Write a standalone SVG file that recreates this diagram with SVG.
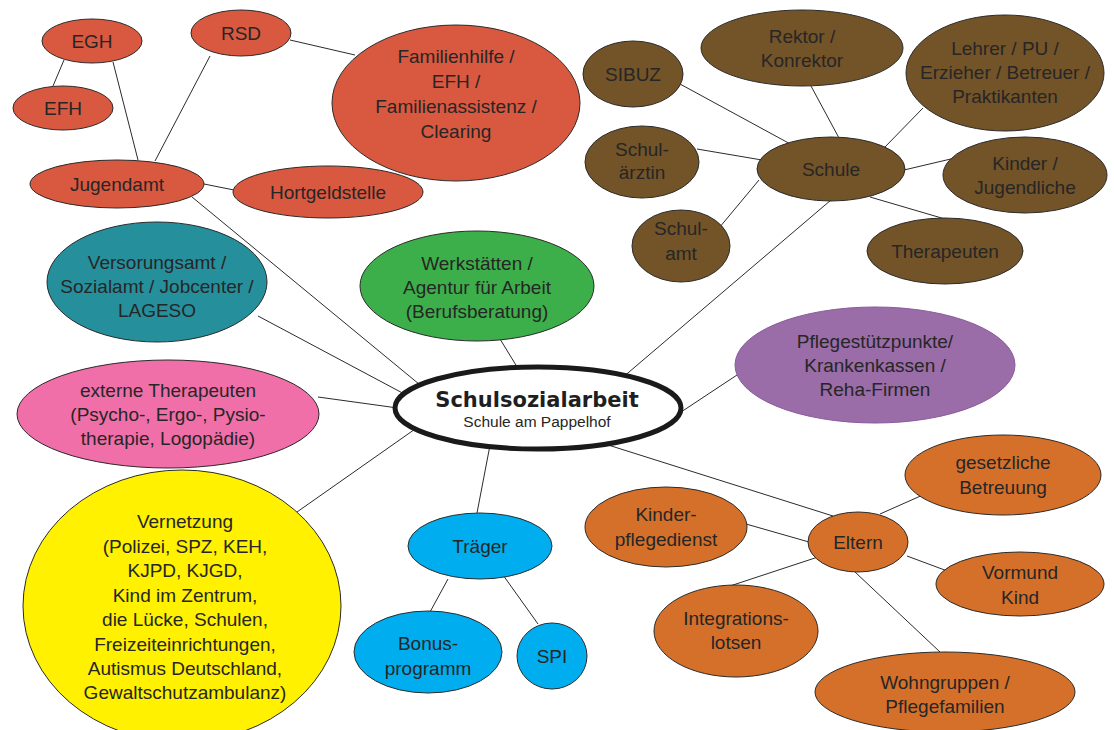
<svg xmlns="http://www.w3.org/2000/svg" width="1114" height="730" viewBox="0 0 1114 730">
<style>
.n{stroke:#2b2b2b;stroke-width:1}
.red{fill:#d95840}
.brn{fill:#735328}
.teal{fill:#268f9c}
.grn{fill:#3daf4a}
.pink{fill:#f06fa9}
.pur{fill:#9a6ca8;stroke:#8a5a9a}
.yel{fill:#fff100}
.blu{fill:#00aeef}
.org{fill:#d5702b}
text{font-family:"Liberation Sans",Arial,sans-serif;font-size:19px;fill:#262626;text-anchor:middle}
.c line{stroke:#2b2b2b;stroke-width:1}
</style>
<rect width="1114" height="730" fill="#fff"/>
<g class="c" id="connectors">
<line x1="64" y1="60" x2="53" y2="86"/>
<line x1="113" y1="62" x2="138" y2="160"/>
<line x1="210" y1="56" x2="155" y2="161"/>
<line x1="290" y1="40" x2="355" y2="55"/>
<line x1="204" y1="184" x2="234" y2="190"/>
<line x1="192" y1="197" x2="425" y2="389"/>
<line x1="258" y1="316" x2="410" y2="397"/>
<line x1="318" y1="397" x2="405" y2="409"/>
<line x1="297" y1="512" x2="418" y2="427"/>
<line x1="500" y1="339" x2="522" y2="375"/>
<line x1="831" y1="200" x2="622" y2="378"/>
<line x1="737" y1="375" x2="672" y2="418"/>
<line x1="491" y1="440" x2="477" y2="513"/>
<line x1="605" y1="444" x2="833" y2="516"/>
<line x1="448" y1="579" x2="430" y2="612"/>
<line x1="503" y1="575" x2="538" y2="624"/>
<line x1="746" y1="524" x2="809" y2="542"/>
<line x1="880" y1="514" x2="925" y2="494"/>
<line x1="907" y1="556" x2="950" y2="572"/>
<line x1="818" y1="557" x2="730" y2="586"/>
<line x1="855" y1="572" x2="940" y2="652"/>
<line x1="680" y1="84" x2="794" y2="146"/>
<line x1="811" y1="86" x2="839" y2="138"/>
<line x1="923" y1="108" x2="884" y2="148"/>
<line x1="697" y1="149" x2="762" y2="160"/>
<line x1="904" y1="170" x2="955" y2="158"/>
<line x1="719" y1="228" x2="759" y2="180"/>
<line x1="870" y1="197" x2="945" y2="219"/>
</g>
<g id="egh"><ellipse class="n red" cx="92" cy="41" rx="50" ry="22"/><text x="92" y="48">EGH</text></g>
<g id="efh"><ellipse class="n red" cx="63" cy="108" rx="50" ry="22"/><text x="63" y="115">EFH</text></g>
<g id="rsd"><ellipse class="n red" cx="241" cy="33" rx="50" ry="23"/><text x="241" y="40">RSD</text></g>
<g id="familienhilfe"><ellipse class="n red" cx="456" cy="103" rx="124" ry="78"/><text x="456" y="63">Familienhilfe /</text><text x="456" y="88">EFH /</text><text x="456" y="113">Familienassistenz /</text><text x="456" y="138">Clearing</text></g>
<g id="jugendamt"><ellipse class="n red" cx="117" cy="184" rx="87" ry="24"/><text x="117" y="191">Jugendamt</text></g>
<g id="hortgeldstelle"><ellipse class="n red" cx="328" cy="192" rx="95" ry="26"/><text x="328" y="199">Hortgeldstelle</text></g>
<g id="sibuz"><ellipse class="n brn" cx="633" cy="74" rx="50" ry="33"/><text x="633" y="81">SIBUZ</text></g>
<g id="rektor"><ellipse class="n brn" cx="802" cy="48" rx="101" ry="38"/><text x="802" y="43">Rektor /</text><text x="802" y="67">Konrektor</text></g>
<g id="lehrer"><ellipse class="n brn" cx="1005" cy="73" rx="99" ry="58"/><text x="1005" y="55">Lehrer / PU /</text><text x="1005" y="79">Erzieher / Betreuer /</text><text x="1005" y="103">Praktikanten</text></g>
<g id="schularztin"><ellipse class="n brn" cx="642" cy="162" rx="57" ry="36"/><text x="642" y="156">Schul-</text><text x="642" y="179">ärztin</text></g>
<g id="schule"><ellipse class="n brn" cx="831" cy="169" rx="74" ry="32"/><text x="831" y="176">Schule</text></g>
<g id="kinder"><ellipse class="n brn" cx="1025" cy="175" rx="82" ry="38"/><text x="1025" y="170">Kinder /</text><text x="1025" y="194">Jugendliche</text></g>
<g id="schulamt"><ellipse class="n brn" cx="681" cy="246" rx="49" ry="36"/><text x="681" y="235">Schul-</text><text x="681" y="260">amt</text></g>
<g id="therapeuten"><ellipse class="n brn" cx="945" cy="251" rx="78" ry="33"/><text x="945" y="258">Therapeuten</text></g>
<g id="versorgungsamt"><ellipse class="n teal" cx="157" cy="282" rx="110" ry="60"/><text x="157" y="269">Versorungsamt /</text><text x="157" y="293">Sozialamt / Jobcenter /</text><text x="157" y="317">LAGESO</text></g>
<g id="werkstaetten"><ellipse class="n grn" cx="477" cy="286" rx="117" ry="55"/><text x="477" y="270">Werkstätten /</text><text x="477" y="294">Agentur für Arbeit</text><text x="477" y="318">(Berufsberatung)</text></g>
<g id="externe"><ellipse class="n pink" cx="168" cy="414" rx="151" ry="54"/><text x="168" y="397">externe Therapeuten</text><text x="168" y="421">(Psycho-, Ergo-, Pysio-</text><text x="168" y="445">therapie, Logopädie)</text></g>
<g id="center"><ellipse cx="538" cy="408" rx="143" ry="41" fill="#fff" stroke="#1a1a1a" stroke-width="5"/><text x="537" y="407" style="font-family:'DejaVu Sans',sans-serif;font-weight:bold;font-size:21px;fill:#1f1f1f">Schulsozialarbeit</text><text x="537" y="427" style="font-size:15.5px">Schule am Pappelhof</text></g>
<g id="pflege"><ellipse class="n pur" cx="875" cy="365" rx="140" ry="58"/><text x="875" y="348">Pflegestützpunkte/</text><text x="875" y="372">Krankenkassen /</text><text x="875" y="396">Reha-Firmen</text></g>
<g id="vernetzung"><ellipse class="n yel" cx="182" cy="606" rx="159" ry="136"/><text x="185" y="528">Vernetzung</text><text x="185" y="553">(Polizei, SPZ, KEH,</text><text x="185" y="577">KJPD, KJGD,</text><text x="185" y="602">Kind im Zentrum,</text><text x="185" y="626">die Lücke, Schulen,</text><text x="185" y="651">Freizeiteinrichtungen,</text><text x="185" y="675">Autismus Deutschland,</text><text x="185" y="699">Gewaltschutzambulanz)</text></g>
<g id="traeger"><ellipse class="n blu" cx="480" cy="546" rx="72" ry="33"/><text x="480" y="553">Träger</text></g>
<g id="bonus"><ellipse class="n blu" cx="428" cy="652" rx="74" ry="41"/><text x="428" y="650">Bonus-</text><text x="428" y="675">programm</text></g>
<g id="spi"><ellipse class="n blu" cx="552" cy="656" rx="35" ry="33"/><text x="552" y="663">SPI</text></g>
<g id="eltern"><ellipse class="n org" cx="858" cy="542" rx="50" ry="30"/><text x="858" y="549">Eltern</text></g>
<g id="kinderpflegedienst"><ellipse class="n org" cx="666" cy="527" rx="81" ry="40"/><text x="666" y="521">Kinder-</text><text x="666" y="546">pflegedienst</text></g>
<g id="gesetzliche"><ellipse class="n org" cx="1003" cy="475" rx="98" ry="40"/><text x="1003" y="469">gesetzliche</text><text x="1003" y="494">Betreuung</text></g>
<g id="vormund"><ellipse class="n org" cx="1020" cy="584" rx="84" ry="32"/><text x="1020" y="579">Vormund</text><text x="1020" y="604">Kind</text></g>
<g id="integrationslotsen"><ellipse class="n org" cx="736" cy="631" rx="82" ry="46"/><text x="736" y="625">Integrations-</text><text x="736" y="649">lotsen</text></g>
<g id="wohngruppen"><ellipse class="n org" cx="945" cy="692" rx="130" ry="40"/><text x="945" y="689">Wohngruppen /</text><text x="945" y="713">Pflegefamilien</text></g>
</svg>
